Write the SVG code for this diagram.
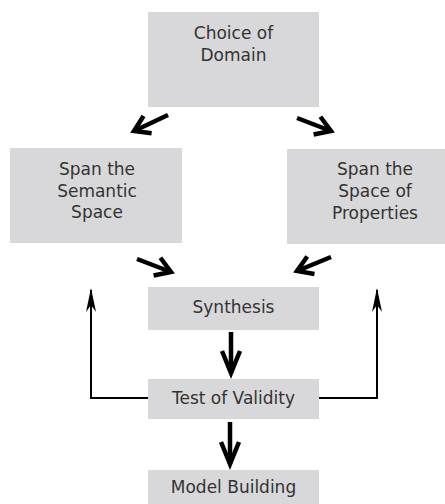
<svg xmlns="http://www.w3.org/2000/svg" width="445" height="504" viewBox="0 0 445 504">
<style>
.box{fill:#d8d8da}
.t{font-family:"DejaVu Sans",Verdana,sans-serif;font-size:17px;fill:#333;text-anchor:middle}
.thick{stroke:#000;stroke-width:4.5;fill:none}
.thin{stroke:#000;stroke-width:2;fill:none}
</style>
<defs>
<marker id="chev" markerUnits="userSpaceOnUse" markerWidth="40" markerHeight="40" viewBox="-20 -20 40 40" refX="0" refY="0" orient="auto" overflow="visible">
<path d="M-15,-9.5 L0,0 L-15,9.5" stroke="#000" stroke-width="4.5" fill="none" stroke-linejoin="miter"/>
</marker>
<marker id="down" markerUnits="userSpaceOnUse" markerWidth="40" markerHeight="40" viewBox="-30 -20 40 40" refX="0" refY="0" orient="auto" overflow="visible">
<path d="M-22,-9 L0,0 L-22,9" stroke="#000" stroke-width="4.5" fill="none" stroke-linejoin="miter"/>
</marker>
<marker id="thinhead" markerUnits="userSpaceOnUse" markerWidth="40" markerHeight="20" viewBox="-30 -10 40 20" refX="0" refY="0" orient="auto" overflow="visible">
<path d="M2,0 L-22,-5 L-15,0 L-22,5 Z" fill="#000"/>
</marker>
</defs>
<g id="node-domain"><rect class="box" x="148" y="12" width="171" height="95"/><text class="t" x="233.5" y="39">Choice of</text><text class="t" x="233.5" y="61">Domain</text></g>
<g id="node-semantic"><rect class="box" x="10" y="148" width="172" height="95"/><text class="t" x="97" y="175">Span the</text><text class="t" x="97" y="197">Semantic</text><text class="t" x="97" y="218">Space</text></g>
<g id="node-properties"><rect class="box" x="287" y="149" width="158" height="95"/><text class="t" x="375" y="175">Span the</text><text class="t" x="375" y="197">Space of</text><text class="t" x="375" y="219">Properties</text></g>
<g id="node-synthesis"><rect class="box" x="148" y="287" width="171" height="43"/><text class="t" x="233.5" y="313">Synthesis</text></g>
<g id="node-validity"><rect class="box" x="148" y="379" width="171" height="40"/><text class="t" x="233.5" y="404">Test of Validity</text></g>
<g id="node-model"><rect class="box" x="148" y="470" width="171" height="40"/><text class="t" x="233.5" y="493">Model Building</text></g>
<g id="connectors">
<line class="thick" x1="168" y1="115" x2="134" y2="131" marker-end="url(#chev)"/>
<line class="thick" x1="297" y1="118" x2="331" y2="131" marker-end="url(#chev)"/>
<line class="thick" x1="137" y1="259" x2="171" y2="272" marker-end="url(#chev)"/>
<line class="thick" x1="331" y1="257" x2="297" y2="271" marker-end="url(#chev)"/>
<line class="thick" x1="231" y1="332" x2="231" y2="373" marker-end="url(#down)"/>
<line class="thick" x1="230" y1="422" x2="230" y2="464" marker-end="url(#down)"/>
<polyline class="thin" points="148,398 91,398 91,290" marker-end="url(#thinhead)"/>
<polyline class="thin" points="319,398 377,398 377,290" marker-end="url(#thinhead)"/>
</g>
</svg>
